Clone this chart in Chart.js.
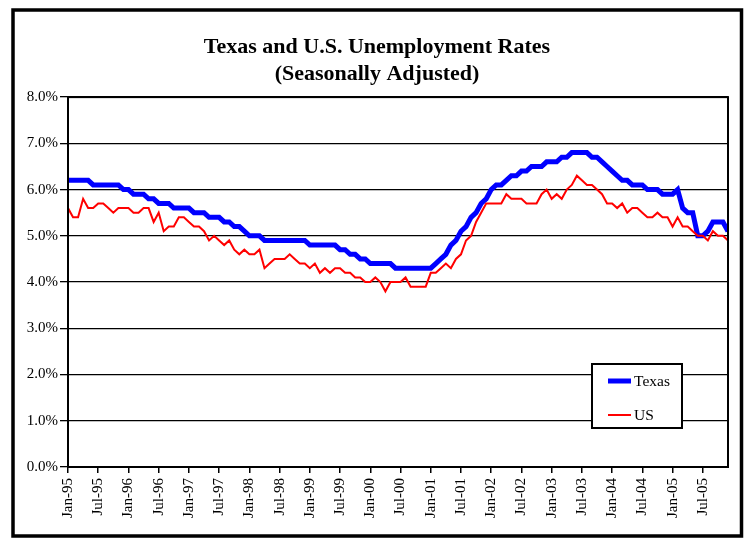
<!DOCTYPE html>
<html>
<head>
<meta charset="utf-8">
<title>Texas and U.S. Unemployment Rates</title>
<script src="https://cdn.jsdelivr.net/npm/chart.js@4.4.1/dist/chart.umd.min.js"></script>
<style>
  html, body { margin: 0; padding: 0; background: #fff; }
  #wrap { width: 745px; height: 538px; }
</style>
</head>
<body>
<div id="wrap"><canvas id="chart" width="745" height="538"></canvas></div>
<script>
// monthly categories Jan-95 .. Dec-05
const months = ['Jan', 'Feb', 'Mar', 'Apr', 'May', 'Jun', 'Jul', 'Aug', 'Sep', 'Oct', 'Nov', 'Dec'];
const years = ['95', '96', '97', '98', '99', '00', '01', '02', '03', '04', '05'];
const categories = years.flatMap(y => months.map(m => m + '-' + y));

// labelled ticks on the x axis
const tickLabels = ['Jan-95', 'Jul-95', 'Jan-96', 'Jul-96', 'Jan-97', 'Jul-97', 'Jan-98', 'Jul-98',
    'Jan-99', 'Jul-99', 'Jan-00', 'Jul-00', 'Jan-01', 'Jul-01', 'Jan-02', 'Jul-02',
    'Jan-03', 'Jul-03', 'Jan-04', 'Jul-04', 'Jan-05', 'Jul-05'];

// Texas rate, %, one row per year
const texasRate = [
    6.2, 6.2, 6.2, 6.2, 6.2, 6.1, 6.1, 6.1, 6.1, 6.1, 6.1, 6.0,
    6.0, 5.9, 5.9, 5.9, 5.8, 5.8, 5.7, 5.7, 5.7, 5.6, 5.6, 5.6,
    5.6, 5.5, 5.5, 5.5, 5.4, 5.4, 5.4, 5.3, 5.3, 5.2, 5.2, 5.1,
    5.0, 5.0, 5.0, 4.9, 4.9, 4.9, 4.9, 4.9, 4.9, 4.9, 4.9, 4.9,
    4.8, 4.8, 4.8, 4.8, 4.8, 4.8, 4.7, 4.7, 4.6, 4.6, 4.5, 4.5,
    4.4, 4.4, 4.4, 4.4, 4.4, 4.3, 4.3, 4.3, 4.3, 4.3, 4.3, 4.3,
    4.3, 4.4, 4.5, 4.6, 4.8, 4.9, 5.1, 5.2, 5.4, 5.5, 5.7, 5.8,
    6.0, 6.1, 6.1, 6.2, 6.3, 6.3, 6.4, 6.4, 6.5, 6.5, 6.5, 6.6,
    6.6, 6.6, 6.7, 6.7, 6.8, 6.8, 6.8, 6.8, 6.7, 6.7, 6.6, 6.5,
    6.4, 6.3, 6.2, 6.2, 6.1, 6.1, 6.1, 6.0, 6.0, 6.0, 5.9, 5.9,
    5.9, 6.0, 5.6, 5.5, 5.5, 5.0, 5.0, 5.1, 5.3, 5.3, 5.3, 5.1
];

// US rate, %, one row per year
const usRate = [
    5.6, 5.4, 5.4, 5.8, 5.6, 5.6, 5.7, 5.7, 5.6, 5.5, 5.6, 5.6,
    5.6, 5.5, 5.5, 5.6, 5.6, 5.3, 5.5, 5.1, 5.2, 5.2, 5.4, 5.4,
    5.3, 5.2, 5.2, 5.1, 4.9, 5.0, 4.9, 4.8, 4.9, 4.7, 4.6, 4.7,
    4.6, 4.6, 4.7, 4.3, 4.4, 4.5, 4.5, 4.5, 4.6, 4.5, 4.4, 4.4,
    4.3, 4.4, 4.2, 4.3, 4.2, 4.3, 4.3, 4.2, 4.2, 4.1, 4.1, 4.0,
    4.0, 4.1, 4.0, 3.8, 4.0, 4.0, 4.0, 4.1, 3.9, 3.9, 3.9, 3.9,
    4.2, 4.2, 4.3, 4.4, 4.3, 4.5, 4.6, 4.9, 5.0, 5.3, 5.5, 5.7,
    5.7, 5.7, 5.7, 5.9, 5.8, 5.8, 5.8, 5.7, 5.7, 5.7, 5.9, 6.0,
    5.8, 5.9, 5.8, 6.0, 6.1, 6.3, 6.2, 6.1, 6.1, 6.0, 5.9, 5.7,
    5.7, 5.6, 5.7, 5.5, 5.6, 5.6, 5.5, 5.4, 5.4, 5.5, 5.4, 5.4,
    5.2, 5.4, 5.2, 5.2, 5.1, 5.0, 5.0, 4.9, 5.1, 5.0, 5.0, 4.9
];

const SERIF = '"Liberation Serif", "Times New Roman", serif';

// outer frame, plot box and the legend box
const framePlugin = {
    id: 'frame',
    afterDraw(chart) {
        const c = chart.ctx;
        const a = chart.chartArea;
        c.save();
        c.strokeStyle = '#000';
        c.lineWidth = 2;
        c.strokeRect(a.left, a.top, a.right - a.left, a.bottom - a.top);

        c.lineWidth = 3.5;
        c.strokeRect(13, 10, 728.5, 526);

        // legend
        c.fillStyle = '#fff';
        c.fillRect(592, 364, 90, 64);
        c.lineWidth = 2;
        c.strokeRect(592, 364, 90, 64);
        const items = [chart.data.datasets[0], chart.data.datasets[1]];
        const rows = [381, 415];
        items.forEach((ds, i) => {
            c.strokeStyle = ds.borderColor;
            c.lineWidth = ds.borderWidth;
            c.beginPath();
            c.moveTo(608, rows[i]);
            c.lineTo(631, rows[i]);
            c.stroke();
            c.fillStyle = '#000';
            c.font = '15.5px ' + SERIF;
            c.textBaseline = 'middle';
            c.fillText(ds.label, 634, rows[i] + 1);
        });
        c.restore();
    }
};

const ctx = document.getElementById('chart').getContext('2d');
new Chart(ctx, {
    type: 'line',
    data: {
        labels: categories,
        datasets: [{
            label: 'Texas',
            data: texasRate,
            borderColor: '#0000FF',
            borderWidth: 5,
            pointRadius: 0,
            tension: 0,
            clip: 0,
            order: 1
        }, {
            label: 'US',
            data: usRate,
            borderColor: '#FF0000',
            borderWidth: 2,
            pointRadius: 0,
            tension: 0,
            clip: 0,
            order: 0
        }]
    },
    options: {
        responsive: false,
        animation: false,
        layout: {
            padding: { top: 34, left: 26, right: 17, bottom: 11 }
        },
        plugins: {
            legend: { display: false },
            tooltip: { enabled: false },
            title: {
                display: true,
                text: ['Texas and U.S. Unemployment Rates', '(Seasonally Adjusted)'],
                color: '#000',
                font: { family: SERIF, size: 22, weight: 'bold', lineHeight: 1.23 },
                padding: { top: 0, bottom: 9 }
            }
        },
        scales: {
            x: {
                type: 'category',
                offset: false,
                afterFit: s => {
                    s.height = 60;
                    s.paddingLeft = 0;
                    s.paddingRight = 0;
                },
                border: { display: true, color: '#000', width: 2 },
                grid: {
                    drawOnChartArea: false,
                    drawTicks: true,
                    tickLength: 6,
                    lineWidth: 1.5,
                    color: c => tickLabels.includes(categories[c.index]) ? '#000' : 'rgba(0,0,0,0)'
                },
                ticks: {
                    autoSkip: false,
                    maxRotation: 90,
                    minRotation: 90,
                    padding: 5,
                    color: '#000',
                    font: { family: SERIF, size: 15 },
                    callback: (v, i) => tickLabels.includes(categories[i]) ? categories[i] : ''
                }
            },
            y: {
                min: 0,
                max: 8,
                afterFit: s => { s.width = 42; },
                border: { display: true, color: '#000', width: 2 },
                grid: {
                    color: '#000',
                    lineWidth: 1.3,
                    tickLength: 8
                },
                ticks: {
                    stepSize: 1,
                    padding: 2,
                    color: '#000',
                    font: { family: SERIF, size: 15 },
                    callback: v => v.toFixed(1) + '%'
                }
            }
        }
    },
    plugins: [framePlugin]
});
</script>
</body>
</html>
